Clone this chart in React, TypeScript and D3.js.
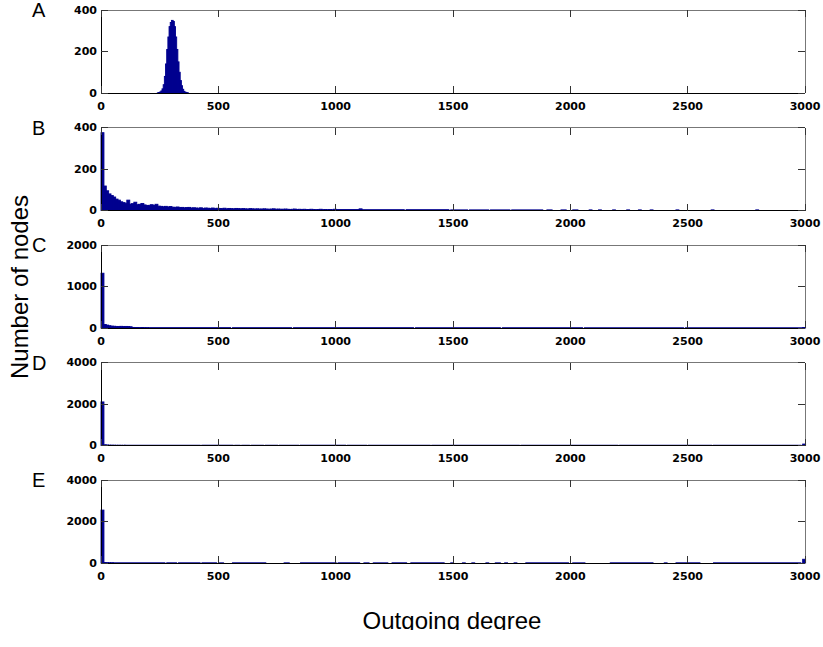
import React, { useRef, useEffect } from 'react';
import * as d3 from 'd3';

const panelLetters = ['A', 'B', 'C', 'D', 'E'];
const yMaxes = [400, 400, 2000, 4000, 4000];
const xTicks = [0, 500, 1000, 1500, 2000, 2500, 3000];
const xMax = 3000;

// A: narrow bins (width 5) starting at degree 240
const startA = 240;
const widthA = 5;
const countsA = [1, 2, 5, 10, 20, 40, 80, 140, 210, 270, 320, 340, 350, 345, 320, 270, 210, 150, 100, 60, 35, 18, 8, 4, 2, 1];

// B..E: bins of width 10 from 0 for the head, then [from, to, count] runs for the sparse tail
const binW = 10;
const headB = [
  375, 118, 95, 80, 72, 65, 55, 50, 42, 38,
  35, 50, 31, 33, 40, 28, 30, 34, 27, 24,
  25, 28, 24, 30, 21, 20, 18, 20, 17, 19,
  16, 15, 17, 14, 15, 13, 14, 15, 12, 13,
  12, 11, 13, 10, 12, 11, 10, 12, 9, 11,
  10, 9, 11, 8, 10, 9, 8, 10, 9, 8,
  9, 8, 7, 9, 8, 7, 8, 7, 7, 8,
  7, 6, 7, 8, 6, 7, 6, 6, 7, 6,
  5, 6, 7, 5, 6, 5, 6, 5, 5, 6,
  5, 4, 5, 6, 4, 5, 4, 5, 4, 6,
];
const tailB = [
  [1000, 1100, 5], [1100, 1110, 8], [1110, 1290, 4], [1300, 1480, 4], [1490, 1560, 3],
  [1570, 1650, 3], [1660, 1740, 3], [1750, 1880, 3], [1900, 1920, 3], [1960, 1980, 3],
  [2010, 2030, 3], [2080, 2090, 3], [2120, 2130, 3], [2180, 2190, 3], [2240, 2250, 3],
  [2290, 2300, 3], [2340, 2350, 3], [2450, 2460, 3], [2600, 2610, 3], [2790, 2800, 3],
];

const headC = [1320, 85, 70, 55, 45, 42, 38, 36, 40, 35, 38, 36, 30, 14, 12, 11, 10, 12, 10, 9];
const tailC = [
  [200, 550, 9], [560, 810, 8], [820, 1330, 8], [1340, 1700, 7], [1710, 2050, 7],
  [2060, 2480, 6], [2490, 2990, 6], [2990, 3000, 12],
];

const headD = [2100, 35, 25, 18, 15, 14, 12, 12, 11, 10];
const tailD = [
  [100, 420, 14], [430, 560, 16], [570, 590, 14], [600, 630, 14], [640, 690, 14],
  [700, 750, 14], [760, 840, 14], [850, 1040, 16], [1050, 1130, 14], [1140, 1400, 14],
  [1410, 1780, 14], [1790, 2200, 14], [2210, 2600, 14], [2610, 2980, 14], [2990, 3000, 70],
];

const headE = [2550, 25, 18, 14, 12];
const tailE = [
  [50, 270, 10], [280, 320, 10], [330, 420, 10], [430, 490, 10], [500, 520, 8],
  [560, 700, 10], [780, 800, 8], [850, 1000, 10], [1010, 1100, 10], [1120, 1140, 8],
  [1160, 1220, 8], [1240, 1300, 10], [1320, 1460, 10], [1490, 1500, 8], [1540, 1550, 8],
  [1580, 1590, 8], [1640, 1650, 8], [1680, 1700, 8], [1720, 1730, 8], [1760, 1770, 8],
  [1810, 1990, 10], [2010, 2060, 8], [2170, 2350, 10], [2400, 2410, 8], [2450, 2550, 10],
  [2610, 2980, 10], [2990, 3000, 180],
];

type Bin = { x0: number; x1: number; n: number };

const fromHead = (start: number, w: number, counts: number[]): Bin[] =>
  counts.map((n, i) => ({ x0: start + i * w, x1: start + (i + 1) * w, n }));
const fromRuns = (runs: number[][]): Bin[] => runs.map(([a, b, n]) => ({ x0: a, x1: b, n }));

const panelBins: Bin[][] = [
  fromHead(startA, widthA, countsA),
  [...fromHead(0, binW, headB), ...fromRuns(tailB)],
  [...fromHead(0, binW, headC), ...fromRuns(tailC)],
  [...fromHead(0, binW, headD), ...fromRuns(tailD)],
  [...fromHead(0, binW, headE), ...fromRuns(tailE)],
];

export default function App() {
  const ref = useRef<SVGSVGElement>(null);
  const width = 823;
  const height = 647;
  const left = 101;
  const right = 805;
  const firstTop = 10;
  const step = 117.5;
  const plotH = 83;
  const tickLen = 7;
  const barColor = '#00008f';

  useEffect(() => {
    const svg = d3.select(ref.current);
    svg.selectAll('*').remove();

    svg.append('defs').append('clipPath').attr('id', 'xlabClip')
      .append('rect').attr('x', 0).attr('y', 0).attr('width', width).attr('height', 630);

    const x = d3.scaleLinear().domain([0, xMax]).range([left, right]);

    panelBins.forEach((bins, i) => {
      const top = firstTop + i * step;
      const bottom = top + plotH;
      const yMax = yMaxes[i];
      const y = d3.scaleLinear().domain([0, yMax]).range([bottom, top]);
      const g = svg.append('g');

      // bars (slight overlap so neighbouring bins read as one solid patch)
      g.append('g')
        .selectAll('rect')
        .data(bins)
        .join('rect')
        .attr('x', d => x(d.x0))
        .attr('width', d => x(d.x1) - x(d.x0) + 0.6)
        .attr('y', d => y(d.n))
        .attr('height', d => y(0) - y(d.n))
        .attr('fill', barColor)
        .attr('stroke', barColor)
        .attr('stroke-width', 0.9);

      // box
      const box = g.append('g').attr('shape-rendering', 'crispEdges');
      box.append('line').attr('x1', left).attr('x2', right).attr('y1', top).attr('y2', top).attr('stroke', '#777');
      box.append('line').attr('x1', right).attr('x2', right).attr('y1', top).attr('y2', bottom).attr('stroke', '#777');
      box.append('line').attr('x1', left).attr('x2', left).attr('y1', top).attr('y2', bottom).attr('stroke', '#000');
      box.append('line').attr('x1', left).attr('x2', right).attr('y1', bottom).attr('y2', bottom).attr('stroke', '#000');

      // ticks (inside, mirrored)
      const yTicks = [0, yMax / 2, yMax];
      xTicks.forEach(t => {
        box.append('line').attr('x1', x(t)).attr('x2', x(t)).attr('y1', bottom).attr('y2', bottom - tickLen).attr('stroke', '#333');
        box.append('line').attr('x1', x(t)).attr('x2', x(t)).attr('y1', top).attr('y2', top + tickLen).attr('stroke', '#333');
      });
      yTicks.forEach(t => {
        box.append('line').attr('x1', left).attr('x2', left + tickLen).attr('y1', y(t)).attr('y2', y(t)).attr('stroke', '#333');
        box.append('line').attr('x1', right).attr('x2', right - tickLen).attr('y1', y(t)).attr('y2', y(t)).attr('stroke', '#333');
      });

      // tick labels
      g.append('g')
        .selectAll('text')
        .data(yTicks)
        .join('text')
        .attr('x', left - 4)
        .attr('y', d => y(d))
        .attr('dy', '0.35em')
        .attr('text-anchor', 'end')
        .style('font-family', '"DejaVu Sans", sans-serif')
        .style('font-weight', 'bold')
        .style('font-size', '11px')
        .text(d => String(d));

      g.append('g')
        .selectAll('text')
        .data(xTicks)
        .join('text')
        .attr('x', d => x(d))
        .attr('y', bottom + 13)
        .attr('dy', '0.35em')
        .attr('text-anchor', 'middle')
        .style('font-family', '"DejaVu Sans", sans-serif')
        .style('font-weight', 'bold')
        .style('font-size', '11px')
        .text(d => String(d));

      // panel letter
      g.append('text')
        .attr('x', 32)
        .attr('y', top + 7)
        .style('font-family', '"Liberation Sans", Arial, sans-serif')
        .style('font-size', '20px')
        .text(panelLetters[i]);
    });

    svg.append('text')
      .attr('transform', 'translate(28,287) rotate(-90)')
      .attr('text-anchor', 'middle')
      .style('font-family', '"Liberation Sans", Arial, sans-serif')
      .style('font-size', '24px')
      .text('Number of nodes');

    svg.append('text')
      .attr('x', 452)
      .attr('y', 629)
      .attr('text-anchor', 'middle')
      .attr('clip-path', 'url(#xlabClip)')
      .style('font-family', '"Liberation Sans", Arial, sans-serif')
      .style('font-size', '24px')
      .text('Outgoing degree');
  }, []);

  return (
    <svg
      ref={ref}
      width={width}
      height={height}
      style={{ position: 'absolute', left: 0, top: 0, background: '#fff' }}
    />
  );
}
